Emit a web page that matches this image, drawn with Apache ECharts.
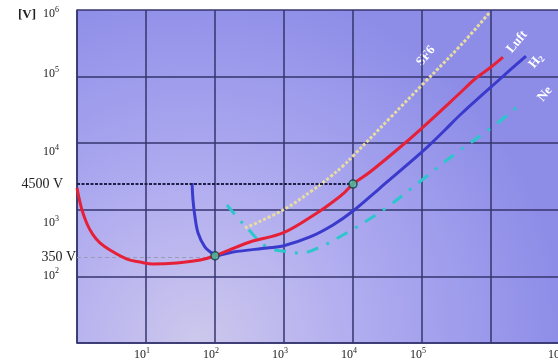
<!DOCTYPE html>
<html>
<head>
<meta charset="utf-8">
<script src="https://cdn.jsdelivr.net/npm/echarts@6/dist/echarts.min.js"></script>
<style>html,body{margin:0;padding:0;background:#fff}#c{width:558px;height:362px}</style>
</head>
<body>
<div id="c"></div>
<script>
// p·d values (x) and breakdown voltage (y)
const luftPd = [1, 1.07, 1.18, 1.4, 1.71, 2.15, 3.0, 5.3, 8.2, 12.6, 28, 61, 100, 321, 968, 3006, 5129, 7656, 10000, 17620, 44870, 100000, 355600, 586100, 1000000, 1490000];
const luftU  = [2123, 1503, 993, 612, 419, 318, 249, 182, 164, 153, 159, 176, 204, 329, 449, 895, 1318, 1849, 2438, 3698, 8185, 16900, 56750, 92040, 139300, 196800];
const h2Pd = [46.5, 48, 51.3, 56.8, 71.6, 93.5, 100, 182, 568, 968, 2382, 5129, 10000, 24600, 100000, 215300, 355600, 1350000, 3210000];
const h2U  = [2523, 1403, 780, 449, 276, 217, 204, 232, 267, 286, 391, 592, 959, 2123, 7379, 15780, 26490, 92040, 203700];
const sf6Pd = [272, 968, 2630, 4645, 7160, 10330, 34360, 110400, 355600, 968300];
const sf6U  = [533, 993, 1982, 3105, 4550, 6650, 23880, 83000, 287700, 933000];
const nePd = [149, 215, 301, 568, 1222, 1706, 3112, 7160, 16480, 34360, 100000, 300600, 1143000, 2810000];
const neU  = [1180, 753, 515, 276, 232, 224, 267, 419, 703, 1180, 2800, 6887, 18750, 40180];
const dotPd = [100, 10000];
const dotU  = [204, 2438];
const refLabels = ['4500 V', '350 V'];
const refU = [2438, 196];
const refEndPd = [10000, 80];
const curveNames = ['SF6', 'Luft', 'H2', 'Ne'];

const zip = (a, b) => a.map((v, i) => [v, b[i]]);
const serif = 'Liberation Serif';
const gridCol = '#35356e';

const chart = echarts.init(document.getElementById('c'), null, {renderer: 'canvas'});

const yShift = {6: 4, 5: -3, 4: 9, 3: 13, 2: -1};

const option = {
  animation: false,
  backgroundColor: '#ffffff',
  grid: {
    left: 77, right: -2, top: 10, bottom: 19, show: true, borderWidth: 0,
    containLabel: false, outerBoundsMode: 'none',
    backgroundColor: {
      type: 'radial', x: 0.25, y: 1.0, r: 1.1,
      colorStops: [
        {offset: 0, color: '#cdc8ec'},
        {offset: 0.45, color: '#b0acf0'},
        {offset: 1, color: '#8d8de8'}
      ]
    }
  },
  xAxis: {
    type: 'log', logBase: 10, min: 1, max: 1e7,
    axisLine: {show: true, lineStyle: {color: gridCol, width: 1.5}},
    axisTick: {show: false},
    splitLine: {show: true, lineStyle: {color: gridCol, width: 1.5}},
    axisLabel: {
      margin: 4,
      formatter: function (v) {
        const e = Math.round(Math.log10(v));
        if (e === 0 || e === 6) return '';
        return '{b|10}{s|' + e + '}';
      },
      rich: {
        b: {fontFamily: serif, fontSize: 12, color: '#222', lineHeight: 16},
        s: {fontFamily: serif, fontSize: 8, color: '#222', verticalAlign: 'top', lineHeight: 10, padding: [0, 8, 0, 0]}
      }
    }
  },
  yAxis: {
    type: 'log', logBase: 10, min: 10, max: 1e6,
    axisLine: {show: true, lineStyle: {color: gridCol, width: 1.5}},
    axisTick: {show: false},
    splitLine: {show: true, lineStyle: {color: gridCol, width: 1.5}},
    axisLabel: {
      margin: 18,
      formatter: function (v) {
        const e = Math.round(Math.log10(v));
        if (e < 2) return '';
        const t = '{b|10}{s|' + e + '}';
        const d = yShift[e] || 0;
        if (d > 0) return '{g' + (2 * d) + '| }\n' + t;
        if (d < 0) return t + '\n{g' + (-2 * d) + '| }';
        return t;
      },
      rich: {
        b: {fontFamily: serif, fontSize: 12, color: '#222', lineHeight: 16},
        s: {fontFamily: serif, fontSize: 8, color: '#222', verticalAlign: 'top', lineHeight: 10},
        g2: {lineHeight: 2, fontSize: 1},
        g6: {lineHeight: 6, fontSize: 1},
        g8: {lineHeight: 8, fontSize: 1},
        g18: {lineHeight: 18, fontSize: 1},
        g26: {lineHeight: 26, fontSize: 1}
      }
    }
  },
  series: [
    {
      name: 'SF6', type: 'line', data: zip(sf6Pd, sf6U), smooth: 0.4, showSymbol: false, symbol: 'none',
      lineStyle: {color: '#e8dca0', width: 3, type: [3, 2]}, z: 3
    },
    {
      name: 'Ne', type: 'line', data: zip(nePd, neU), smooth: 0.4, showSymbol: false, symbol: 'none',
      lineStyle: {color: '#2cc6cc', width: 3, type: [12, 9, 3, 9]}, z: 3
    },
    {
      name: 'H2', type: 'line', data: zip(h2Pd, h2U), smooth: 0.35, showSymbol: false, symbol: 'none',
      lineStyle: {color: '#3a3acc', width: 3}, z: 4
    },
    {
      name: 'Luft', type: 'line', data: zip(luftPd, luftU), smooth: 0.35, showSymbol: false, symbol: 'none',
      lineStyle: {color: '#e62036', width: 3}, z: 5
    },
    {
      name: 'marks', type: 'scatter', data: zip(dotPd, dotU), symbol: 'circle', symbolSize: 8,
      itemStyle: {color: '#44c4a4', borderColor: '#1c3a40', borderWidth: 1.5}, z: 10,
      markLine: {
        symbol: 'none', silent: true, animation: false,
        data: [
          [
            {coord: [1, refU[0]], lineStyle: {type: [3, 1.5], color: '#1e1e48', width: 1.8},
             label: {show: true, formatter: refLabels[0], position: 'start', distance: 14,
                     fontFamily: serif, fontSize: 14, color: '#222'}},
            {coord: [refEndPd[0], refU[0]]}
          ],
          [
            {coord: [1, refU[1]], lineStyle: {type: [4, 3], color: '#9a9ab8', width: 1.2},
             label: {show: true, formatter: refLabels[1], position: 'start', distance: 1,
                     fontFamily: serif, fontSize: 14, color: '#222'}},
            {coord: [refEndPd[1], refU[1]]}
          ]
        ]
      }
    }
  ],
  graphic: [
    {type: 'text', left: 18, top: 8, style: {text: '[V]', fontFamily: serif, fontSize: 13, fontWeight: 'bold', fill: '#222'}},
    {type: 'text', x: 426, y: 56, rotation: Math.PI * 50 / 180,
     style: {text: curveNames[0], fontFamily: serif, fontSize: 13, fontWeight: 'bold', fill: '#fff', align: 'center', verticalAlign: 'middle'}},
    {type: 'text', x: 517, y: 42, rotation: Math.PI * 50 / 180,
     style: {text: curveNames[1], fontFamily: serif, fontSize: 13, fontWeight: 'bold', fill: '#fff', align: 'center', verticalAlign: 'middle'}},
    {type: 'text', x: 536, y: 61, rotation: Math.PI * 50 / 180,
     style: {text: '{h|H}{l|2}', rich: {h: {fontFamily: serif, fontSize: 13, fontWeight: 'bold', fill: '#fff', color: '#fff', lineHeight: 16},
             l: {fontFamily: serif, fontSize: 9, fontWeight: 'bold', color: '#fff', verticalAlign: 'bottom', lineHeight: 10}},
             align: 'center', verticalAlign: 'middle', fill: '#fff'}},
    {type: 'text', x: 545, y: 94, rotation: Math.PI * 50 / 180,
     style: {text: curveNames[3], fontFamily: serif, fontSize: 13, fontWeight: 'bold', fill: '#fff', align: 'center', verticalAlign: 'middle'}}
  ]
};
chart.setOption(option);
</script>
</body>
</html>
